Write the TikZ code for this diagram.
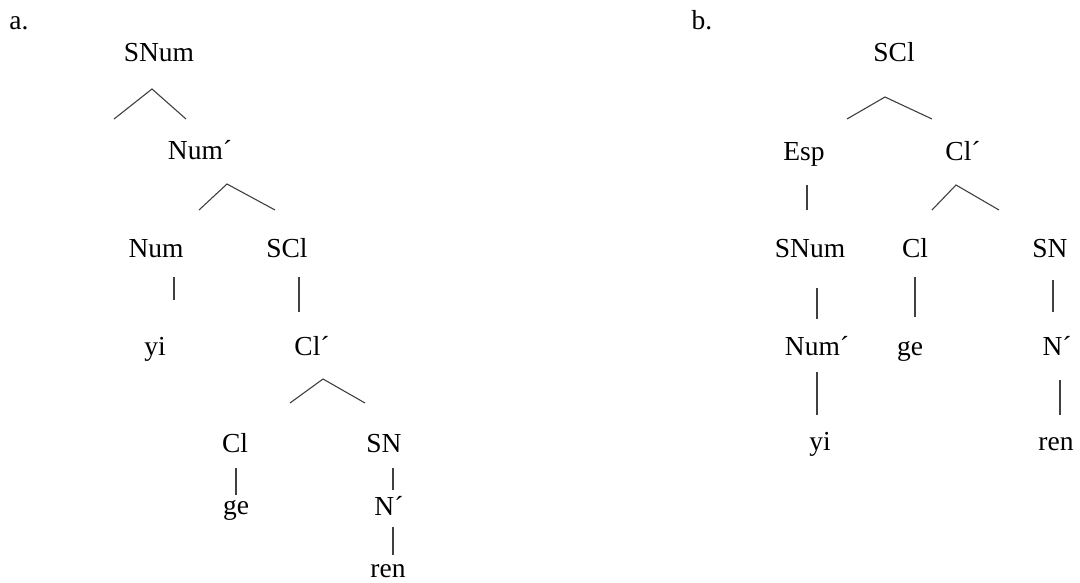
\documentclass[tikz,border=0pt]{standalone}
\usepackage{fontspec}
\setmainfont{Liberation Serif}
\begin{document}
\begin{tikzpicture}[x=1pt,y=-1pt,
  lbl/.style={anchor=base,inner sep=0pt,font=\fontsize{27.5}{32}\selectfont},
  br/.style={draw=black!75,line width=1.1pt}]
\useasboundingbox (0,0) rectangle (1080,583);
% ---------- tree a ----------
\node[lbl] (la) at (19,30) {a.};
\node[lbl] (aSNum) at (159,62) {SNum};
\node[lbl] (aNumb) at (200,160) {Num´};
\node[lbl] (aNum) at (156,258) {Num};
\node[lbl] (aSCl) at (287,258) {SCl};
\node[lbl] (ayi) at (155,355) {yi};
\node[lbl] (aClb) at (312,355) {Cl´};
\node[lbl] (aCl) at (235,452) {Cl};
\node[lbl] (aSN) at (384,452) {SN};
\node[lbl] (age) at (236,514) {ge};
\node[lbl] (aNb) at (389,515) {N´};
\node[lbl] (aren) at (388,577) {ren};
\coordinate (a1t) at (152,89); \coordinate (a1l) at (114,119); \coordinate (a1r) at (186,119);
\coordinate (a2t) at (227,184); \coordinate (a2l) at (199,210); \coordinate (a2r) at (275,210);
\coordinate (a3t) at (323,379); \coordinate (a3l) at (290,403); \coordinate (a3r) at (365,403);
\coordinate (v1t) at (174,277); \coordinate (v1b) at (174,300);
\coordinate (v2t) at (299,277); \coordinate (v2b) at (299,312);
\coordinate (v3t) at (236,468); \coordinate (v3b) at (236,495);
\coordinate (v4t) at (393,468); \coordinate (v4b) at (393,490);
\coordinate (v5t) at (393,527); \coordinate (v5b) at (393,555);
\draw[br] (a1l) -- (a1t) -- (a1r);
\draw[br] (a2l) -- (a2t) -- (a2r);
\draw[br] (a3l) -- (a3t) -- (a3r);
\draw[br] (v1t) -- (v1b);
\draw[br] (v2t) -- (v2b);
\draw[br] (v3t) -- (v3b);
\draw[br] (v4t) -- (v4b);
\draw[br] (v5t) -- (v5b);
% ---------- tree b ----------
\node[lbl] (lb) at (702,30) {b.};
\node[lbl] (bSCl) at (894,62) {SCl};
\node[lbl] (bEsp) at (804,161) {Esp};
\node[lbl] (bClb) at (963,161) {Cl´};
\node[lbl] (bSNum) at (810,258) {SNum};
\node[lbl] (bCl) at (915,258) {Cl};
\node[lbl] (bSN) at (1050,258) {SN};
\node[lbl] (bNumb) at (817,355) {Num´};
\node[lbl] (bge) at (910,355) {ge};
\node[lbl] (bNb) at (1057,355) {N´};
\node[lbl] (byi) at (820,450) {yi};
\node[lbl] (bren) at (1056,450) {ren};
\coordinate (b1t) at (885,97); \coordinate (b1l) at (847,119); \coordinate (b1r) at (932,119);
\coordinate (b2t) at (956,185); \coordinate (b2l) at (932,210); \coordinate (b2r) at (999,210);
\coordinate (w1t) at (807,185); \coordinate (w1b) at (807,210);
\coordinate (w2t) at (817,288); \coordinate (w2b) at (817,319);
\coordinate (w3t) at (915,277); \coordinate (w3b) at (915,317);
\coordinate (w4t) at (1053,280); \coordinate (w4b) at (1053,312);
\coordinate (w5t) at (817,372); \coordinate (w5b) at (817,415);
\coordinate (w6t) at (1060,380); \coordinate (w6b) at (1060,415);
\draw[br] (b1l) -- (b1t) -- (b1r);
\draw[br] (b2l) -- (b2t) -- (b2r);
\draw[br] (w1t) -- (w1b);
\draw[br] (w2t) -- (w2b);
\draw[br] (w3t) -- (w3b);
\draw[br] (w4t) -- (w4b);
\draw[br] (w5t) -- (w5b);
\draw[br] (w6t) -- (w6b);
\end{tikzpicture}
\end{document}
